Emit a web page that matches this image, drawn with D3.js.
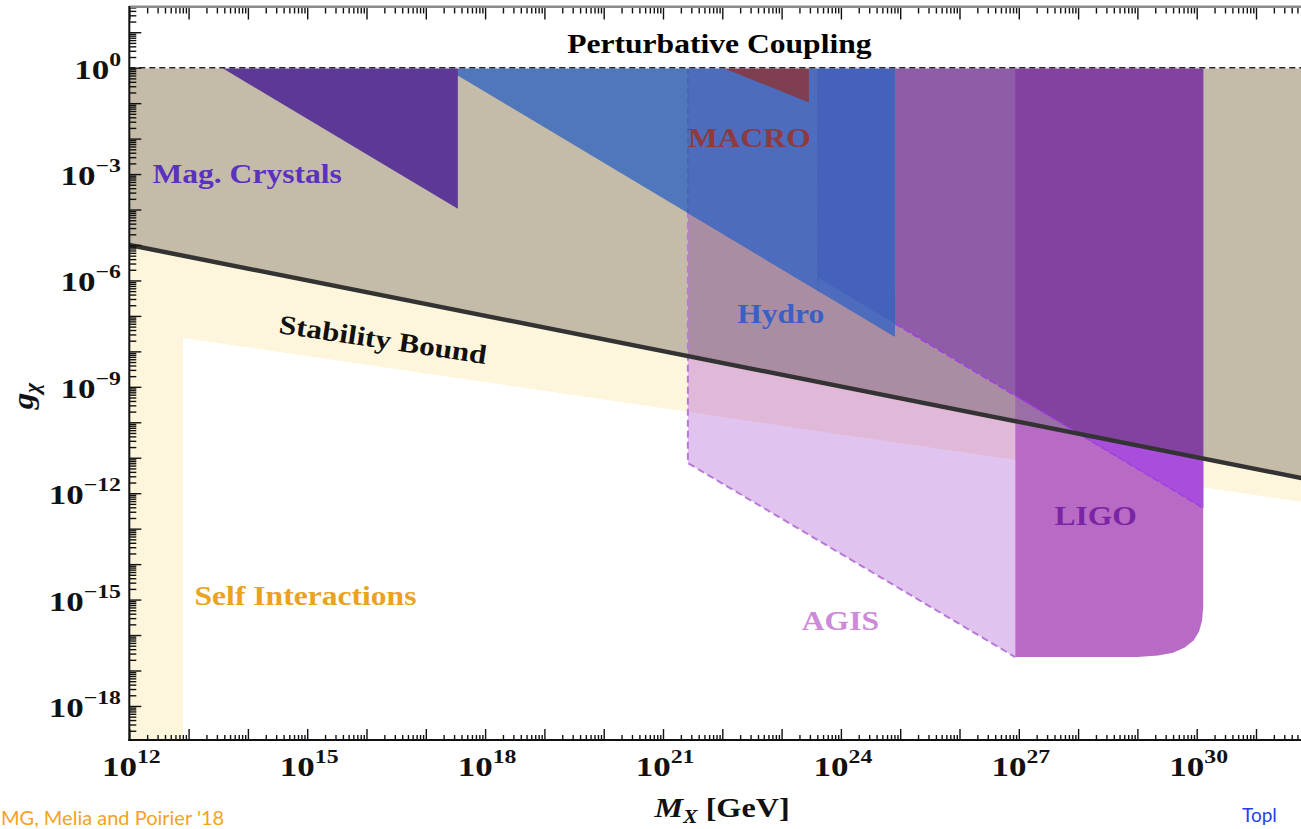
<!DOCTYPE html>
<html><head><meta charset="utf-8">
<script src="https://cdn.jsdelivr.net/npm/d3@7"></script>
<style>html,body{margin:0;padding:0;background:#fff;overflow:hidden}</style>
</head><body><svg id="c" width="1301" height="829"></svg>
<script>
// ---- data (log10 exponents: [log10 M_X/GeV, log10 g_chi]) ----
const xTickExps = [12, 15, 18, 21, 24, 27, 30];
const yTickExps = [0, -3, -6, -9, -12, -15, -18];
const perturbativeLimit = 0;
const stabilityLine = [[12, -5.0], [32, -11.65]];
const selfInteractionEdge = [[12.905, -19.5], [12.905, -7.62], [32, -12.30]];
const magCrystals = [[13.56, 0], [17.54, 0], [17.54, -3.98]];
const hydro = [[17.32, 0], [24.91, 0], [24.91, -7.59]];
const macro = [[22.0, 0], [23.46, 0], [23.46, -0.98]];
const agis = [[21.42, 0], [26.94, 0], [26.94, -16.62], [21.42, -11.15]];
const ligoUpper = [[23.61, 0], [30.11, 0], [30.11, -12.42], [23.61, -5.92]];
const ligo = [[26.94, 0], [30.11, 0], [30.11, -15.2], [30.09, -15.6], [30.04, -15.9], [29.95, -16.15],
              [29.8, -16.35], [29.6, -16.5], [29.35, -16.58], [29.0, -16.62], [26.94, -16.62]];
const labels = [
  {text: "Perturbative Coupling", x: 21.95, y: 0.42, color: "#000", anchor: "middle"},
  {text: "Mag. Crystals", x: 12.39, y: -3.24, color: "#5b31bf", anchor: "start"},
  {text: "MACRO", x: 21.42, y: -2.24, color: "#8e3a3e", anchor: "start"},
  {text: "Hydro", x: 22.25, y: -7.2, color: "#3b60c4", anchor: "start"},
  {text: "LIGO", x: 27.6, y: -12.9, color: "#7b25a6", anchor: "start"},
  {text: "AGIS", x: 23.34, y: -15.86, color: "#cd8ad8", anchor: "start"},
  {text: "Self Interactions", x: 13.1, y: -15.16, color: "#e9a320", anchor: "start"}
];

const svg = d3.select("#c");
const W = 1301, H = 829;
const x = d3.scaleLog().domain([1e12, 1e32]).range([129.3, 1315.3]);
const y = d3.scaleLog().domain([Math.pow(10, 1.72), Math.pow(10, -18.96)]).range([6.7, 740]);
const X = e => x(Math.pow(10, e));
const Y = e => y(Math.pow(10, e));
const line = d3.line().x(p => X(p[0])).y(p => Y(p[1]));
const poly = pts => line(pts) + "Z";

const defs = svg.append("defs");
defs.append("clipPath").attr("id", "plotClip").append("rect")
  .attr("x", 129.3).attr("y", 6.7).attr("width", W - 129.3).attr("height", 740 - 6.7);
function addClip(id, pts) { defs.append("clipPath").attr("id", id).append("path").attr("d", poly(pts)); }

const s0 = stabilityLine[0], s1 = stabilityLine[1];
const creamPoly = [[12, -19.5], ...selfInteractionEdge, s1, s0];
const tanPoly = [[12, perturbativeLimit], [32, perturbativeLimit], s1, s0];
const belowStab = [s0, s1, [32, -19.5], [12, -19.5]];
addClip("cTan", tanPoly);
addClip("cCream", creamPoly);
addClip("cAgis", agis);
addClip("cLigo", ligo);
addClip("cUpper", ligoUpper);
addClip("cBelow", belowStab);
addClip("cHydro", hydro);

const plot = svg.append("g").attr("clip-path", "url(#plotClip)");
function fill(pts, color, clips = []) {
  let g = plot;
  clips.forEach(c => { g = g.append("g").attr("clip-path", `url(#${c})`); });
  g.append("path").attr("d", poly(pts)).attr("fill", color);
}

fill(creamPoly, "#fdf6dc");
fill(tanPoly, "#c4bca8");
// AGIS
fill(agis, "#e0c3ee");
fill(agis, "#e1b9d8", ["cCream"]);
fill(agis, "#ab8da3", ["cTan"]);
// LIGO
fill(ligo, "#b86bc5");
fill(ligo, "#9b6ea7", ["cTan"]);
// upper region
fill(ligoUpper, "#8f5ca7");
fill(ligoUpper, "#8442a0", ["cLigo"]);
fill(ligoUpper, "#a94ddc", ["cLigo", "cBelow"]);
// dashed borders
plot.append("path").attr("d", line([[21.42, 0], [21.42, -11.15], [26.94, -16.62]]))
  .attr("fill", "none").attr("stroke", "#b978d9").attr("stroke-width", 2).attr("stroke-dasharray", "7,4");
plot.append("path").attr("d", line([[23.61, -5.92], [30.11, -12.42]]))
  .attr("fill", "none").attr("stroke", "#a040e0").attr("stroke-width", 1.6).attr("stroke-dasharray", "7,3");
// Hydro
fill(hydro, "#5077bb");
fill(hydro, "#4d6cbd", ["cAgis"]);
fill(hydro, "#4561bb", ["cUpper"]);
const hg = plot.append("g").attr("clip-path", "url(#cHydro)");
[21.42, 23.61].forEach(e => hg.append("path").attr("d", line([[e, 0], [e, -12]]))
  .attr("fill", "none").attr("stroke", "#4463b3").attr("stroke-width", 1.5).attr("stroke-dasharray", "6,4"));
// Mag crystals, MACRO
fill(magCrystals, "#5e3896");
fill(macro, "#7f3f51");
// stability bound
plot.append("path").attr("d", line(stabilityLine)).attr("fill", "none")
  .attr("stroke", "#333").attr("stroke-width", 4.5);
// perturbative coupling dashed line
plot.append("path").attr("d", line([[12, perturbativeLimit], [32, perturbativeLimit]]))
  .attr("fill", "none").attr("stroke", "#fff").attr("stroke-opacity", 0.6).attr("stroke-width", 2);
plot.append("path").attr("d", line([[12, perturbativeLimit], [32, perturbativeLimit]]))
  .attr("fill", "none").attr("stroke", "#222").attr("stroke-width", 1.4).attr("stroke-dasharray", "6,4");

// ---- axes ----
const xMajor = d3.range(12, 33).map(e => Math.pow(10, e));
const xMinor = [];
d3.range(12, 32).forEach(e => d3.range(2, 10).forEach(k => xMinor.push(k * Math.pow(10, e))));
const yMajor = d3.range(-18, 2).map(e => Math.pow(10, e));
const yMinor = [];
d3.range(-19, 2).forEach(e => d3.range(2, 10).forEach(k => {
  const v = k * Math.pow(10, e); if (v < Math.pow(10, 1.72) && v > Math.pow(10, -18.96)) yMinor.push(v);
}));
function axisG(axis, tx, ty) {
  const g = svg.append("g").attr("transform", `translate(${tx},${ty})`).call(axis);
  g.select(".domain").remove();
  g.selectAll(".tick line").attr("stroke", "#111").attr("stroke-width", 1.4);
  g.selectAll(".tick text").remove();
  return g;
}
axisG(d3.axisBottom(x).tickValues(xMajor).tickSizeInner(-11).tickFormat(""), 0, 740);
axisG(d3.axisBottom(x).tickValues(xMinor).tickSizeInner(-5).tickFormat(""), 0, 740);
axisG(d3.axisTop(x).tickValues(xMajor).tickSizeInner(-12).tickFormat(""), 0, 7.5);
axisG(d3.axisTop(x).tickValues(xMinor).tickSizeInner(-6).tickFormat(""), 0, 7.5);
axisG(d3.axisLeft(y).tickValues(yMajor).tickSizeInner(-12).tickFormat(""), 129.3, 0);
axisG(d3.axisLeft(y).tickValues(yMinor).tickSizeInner(-7).tickFormat(""), 129.3, 0);

// frame
svg.append("line").attr("x1", 129.3).attr("x2", W).attr("y1", 6.7).attr("y2", 6.7)
  .attr("stroke", "#8a8a8a").attr("stroke-width", 2.5);
svg.append("line").attr("x1", 129.3).attr("x2", 129.3).attr("y1", 6).attr("y2", 741)
  .attr("stroke", "#111").attr("stroke-width", 2);
svg.append("line").attr("x1", 128.3).attr("x2", W).attr("y1", 740).attr("y2", 740)
  .attr("stroke", "#111").attr("stroke-width", 2);

const serif = "'Liberation Serif','Times New Roman',serif";
function powText(g, exp) {
  g.append("tspan").text("10");
  g.append("tspan").attr("dy", -13).attr("font-size", 19).text(exp < 0 ? "\u2212" + (-exp) : String(exp));
}
xTickExps.forEach(e => {
  const t = svg.append("text").attr("transform", `translate(${X(e) + 2},776) scale(1.25,1)`)
    .attr("text-anchor", "middle").attr("font-family", serif).attr("font-weight", "bold")
    .attr("font-size", 28).attr("fill", "#111");
  powText(t, e);
});
yTickExps.forEach(e => {
  const t = svg.append("text").attr("transform", `translate(121,${Y(e) + 11}) scale(1.25,1)`)
    .attr("text-anchor", "end").attr("font-family", serif).attr("font-weight", "bold")
    .attr("font-size", 28).attr("fill", "#111");
  powText(t, e);
});

// axis titles
const xt = svg.append("text").attr("transform", "translate(722,817) scale(1.15,1)")
  .attr("text-anchor", "middle").attr("font-family", serif).attr("font-weight", "bold")
  .attr("font-size", 28).attr("fill", "#111");
xt.append("tspan").attr("font-style", "italic").text("M");
xt.append("tspan").attr("font-style", "italic").attr("font-size", 19).attr("dy", 6).text("X");
xt.append("tspan").attr("dy", -6).text(" [GeV]");
const yt = svg.append("text").attr("transform", "translate(33,396) rotate(-90) scale(1.1,1)")
  .attr("text-anchor", "middle").attr("font-family", serif).attr("font-weight", "bold")
  .attr("font-size", 30).attr("fill", "#111");
yt.append("tspan").attr("font-style", "italic").text("g");
yt.append("tspan").attr("font-style", "italic").attr("font-size", 20).attr("dy", 6).text("\u03c7");

// region labels
labels.forEach(l => {
  svg.append("text").attr("transform", `translate(${X(l.x)},${Y(l.y)}) scale(1.17,1)`)
    .attr("text-anchor", l.anchor).attr("font-family", serif).attr("font-weight", "bold")
    .attr("font-size", 27).attr("fill", l.color).text(l.text);
});
svg.append("text").attr("transform", `translate(278,333) rotate(8.5) scale(1.16,1)`)
  .attr("font-family", serif).attr("font-weight", "bold").attr("font-size", 27)
  .attr("fill", "#111").text("Stability Bound");

// slide footer
svg.append("text").attr("x", 1).attr("y", 825).attr("font-family", "Lato, 'Open Sans', sans-serif")
  .attr("font-size", 20).attr("fill", "#f5a21c").text("MG, Melia and Poirier '18");
svg.append("text").attr("x", 1242).attr("y", 822).attr("font-family", "Lato, 'Open Sans', sans-serif")
  .attr("font-size", 19).attr("fill", "#1f3ef5").text("Topl");
</script></body></html>
